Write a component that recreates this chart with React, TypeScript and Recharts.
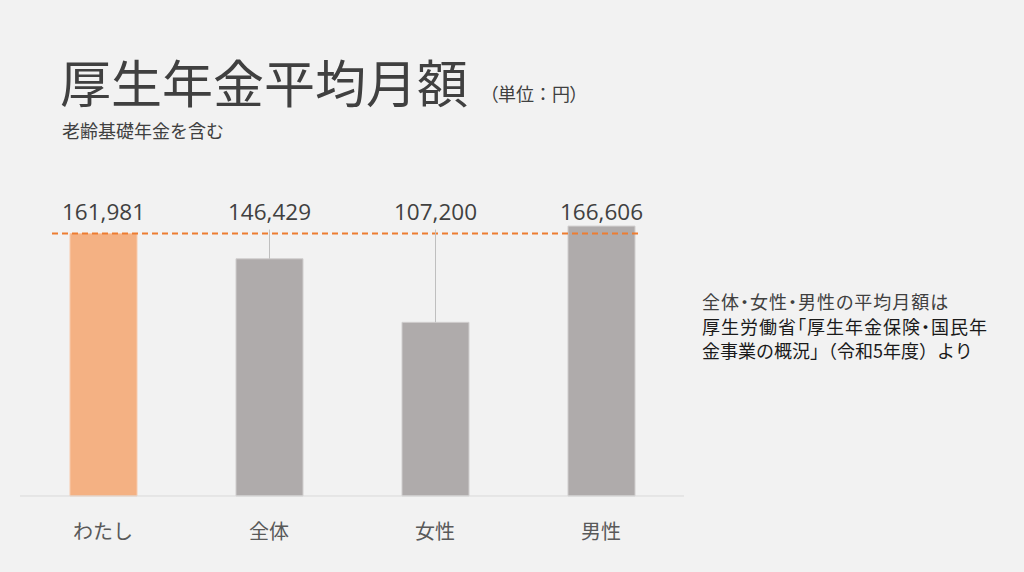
import { BarChart, Bar, XAxis, YAxis, Cell, ReferenceLine } from 'recharts';

const categories = ['わたし', '全体', '女性', '男性'];
const amounts = [161981, 146429, 107200, 166606];
const barColors = ['#f4b183', '#afabab', '#afabab', '#afabab'];
const barBorders = ['#f8cbad', '#d0cece', '#d0cece', '#d0cece'];
const myAmount = 161981;
const yDomain = [0, 200000];

const noteLines = [
   '全体・女性・男性の平均月額は',
   '厚生労働省「厚生年金保険・国民年',
   '金事業の概況」（令和5年度）より',
];
// proportional punctuation on the first two lines only
const notePalt = [true, true, false];

const data = categories.map((name, i) => ({ name, value: amounts[i] }));

const JP = '"Noto Sans CJK JP", "Noto Sans", sans-serif';
const NUM = '"Open Sans", "Noto Sans", sans-serif';

function ValueLabel(props: any) {
   const { x, y, width, height, value } = props;
   const base = y + height;
   const refY = base - (myAmount * height) / value;
   const cx = x + width / 2;
   return (
      <g>
         {y - refY > 8 && (
            <line x1={cx} x2={cx} y1={refY - 4} y2={y} stroke="#bfbfbf" strokeWidth={1} />
         )}
         <text
            x={cx}
            y={refY - 22}
            textAnchor="middle"
            dominantBaseline="central"
            fontFamily={NUM}
            fontSize={22.5}
            fill="#404040"
         >
            {Number(value).toLocaleString('en-US')}
         </text>
      </g>
   );
}

function CategoryTick(props: any) {
   const { x, y, payload } = props;
   return (
      <text
         x={x}
         y={y + 34}
         textAnchor="middle"
         dominantBaseline="central"
         fontFamily={JP}
         fontSize={20}
         fill="#595959"
      >
         {payload.value}
      </text>
   );
}

function DashedRef(props: any) {
   const { x1, x2, y1, y2 } = props;
   return (
      <line
         x1={x1 + 32}
         x2={x2 - 42}
         y1={y1}
         y2={y2}
         stroke="#ed7d31"
         strokeWidth={2}
         strokeDasharray="6 4"
      />
   );
}

export default function App() {
   return (
      <div
         style={{
            position: 'fixed', left: 0, top: 0, width: 1024, height: 572,
            background: '#f2f2f2', overflow: 'hidden', fontFamily: JP,
         }}
      >
         <div style={{ position: 'absolute', left: 60, top: 56, fontSize: 51, lineHeight: 1, color: '#404040' }}>
            厚生年金平均月額
         </div>
         <div style={{ position: 'absolute', left: 489, top: 84, fontSize: 18, lineHeight: 1, color: '#404040' }}>
            <span style={{ fontFeatureSettings: '"palt"' }}>（</span>
            単位：円
            <span style={{ fontFeatureSettings: '"palt"' }}>）</span>
         </div>
         <div style={{ position: 'absolute', left: 62, top: 121, fontSize: 18, lineHeight: 1, color: '#404040' }}>
            老齢基礎年金を含む
         </div>
         <div style={{ position: 'absolute', left: 702, top: 289, fontSize: 18, lineHeight: '24.5px' }}>
            {noteLines.map((t, i) => (
               <div
                  key={i}
                  style={{
                     color: i === 0 ? '#404040' : '#1a1a1a',
                     fontFeatureSettings: notePalt[i] ? '"palt"' : 'normal',
                     letterSpacing: notePalt[i] ? 1 : 0,
                     whiteSpace: 'nowrap',
                  }}
               >
                  {t}
               </div>
            ))}
         </div>
         <div style={{ position: 'absolute', left: 0, top: 0 }}>
            <BarChart
               width={1024}
               height={572}
               data={data}
               margin={{ top: 172, right: 340, bottom: 0, left: 20 }}
            >
               <XAxis
                  dataKey="name"
                  height={76}
                  axisLine={{ stroke: '#d9d9d9', strokeWidth: 1 }}
                  tickLine={false}
                  tickSize={0}
                  tickMargin={0}
                  tick={<CategoryTick />}
                  interval={0}
               />
               <YAxis hide domain={yDomain} />
               <Bar dataKey="value" barSize={67} isAnimationActive={false} label={<ValueLabel />}>
                  {data.map((d, i) => (
                     <Cell key={d.name} fill={barColors[i]} stroke={barBorders[i]} strokeWidth={1} />
                  ))}
               </Bar>
               <ReferenceLine y={myAmount} shape={<DashedRef />} />
            </BarChart>
         </div>
      </div>
   );
}
